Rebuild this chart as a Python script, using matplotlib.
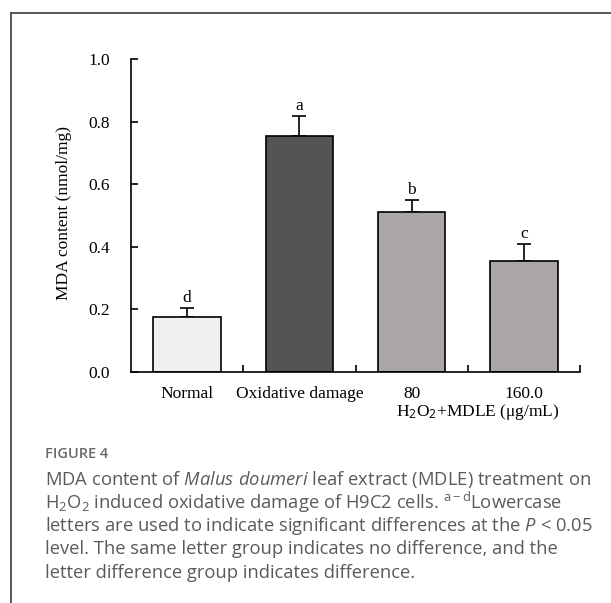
import matplotlib
matplotlib.use('Agg')
import matplotlib.pyplot as plt
from matplotlib.lines import Line2D

# Data
groups = ['Normal', 'Oxidative damage', '80', '160.0']
mda_mean = [0.177, 0.755, 0.513, 0.355]
mda_err = [0.027, 0.063, 0.036, 0.053]
sig_letters = ['d', 'a', 'b', 'c']
bar_colors = ['#f0f0f0', '#545454', '#aba7a7', '#aba7a7']

serif = 'Liberation Serif'
plt.rcParams['mathtext.fontset'] = 'custom'
plt.rcParams['mathtext.rm'] = 'Open Sans'
plt.rcParams['mathtext.it'] = 'Open Sans:italic'

fig = plt.figure(figsize=(6.11, 6.03), dpi=100)
ax = fig.add_axes([0.2144, 0.383, 0.735, 0.519])

# Bars with upper error bars
xpos = [i + 0.5 for i in range(len(groups))]
ax.errorbar(xpos, mda_mean, yerr=[[0] * len(groups), mda_err], fmt='none',
            ecolor='black', elinewidth=1.2, capsize=5, capthick=1.2, zorder=1)
ax.bar(xpos, mda_mean, width=0.6, color=bar_colors, edgecolor='black',
       linewidth=1.2, zorder=2)

# Significance letters above error bars
for xi, m, e, lab in zip(xpos, mda_mean, mda_err, sig_letters):
    ax.annotate(lab, (xi, m + e), xytext=(0, 4.5), textcoords='offset points',
                ha='center', va='baseline', fontsize=12.5, family=serif)

# Axes settings
ax.set_xlim(0, len(groups))
ax.set_ylim(0, 1.0)
ax.spines['top'].set_visible(False)
ax.spines['right'].set_visible(False)
for s in ['left', 'bottom']:
    ax.spines[s].set_linewidth(1.2)

ax.set_yticks([0.0, 0.2, 0.4, 0.6, 0.8, 1.0])
ax.set_yticklabels([f'{v:.1f}' for v in [0.0, 0.2, 0.4, 0.6, 0.8, 1.0]],
                   family=serif, fontsize=12.5)
ax.tick_params(axis='y', direction='in', length=5, width=1.2, pad=15)

ax.set_xticks(range(1, len(groups) + 1))
ax.set_xticklabels([])
ax.tick_params(axis='x', which='major', direction='in', length=5, width=1.2)
ax.set_xticks(xpos, minor=True)
ax.set_xticklabels(groups, minor=True, family=serif, fontsize=12.5)
ax.tick_params(axis='x', which='minor', length=0, pad=10)

fig.text(64.5 / 611, 1 - 213 / 603, 'MDA content (nmol/mg)', rotation=90,
         ha='center', va='center', family=serif, fontsize=12.5)
fig.text(478 / 611, 1 - 412 / 603, r'H$_2$O$_2$+MDLE (μg/mL)', ha='center',
         va='center', family=serif, fontsize=12.5)

# Frame around the figure panel
fig.add_artist(Line2D([11 / 611, 11 / 611], [0, 1 - 13 / 603],
                      transform=fig.transFigure, color='#4a4a4a', lw=1.3))
fig.add_artist(Line2D([11 / 611, 1], [1 - 13 / 603, 1 - 13 / 603],
                      transform=fig.transFigure, color='#4a4a4a', lw=1.3))

# Caption
cap_col = '#5a5a5a'
fig.text(45 / 611, 1 - 454 / 603, 'FIGURE 4', family='Open Sans',
         fontweight='semibold', fontsize=10.5, color='#6a6a6a', va='center')
caption = [
    r'MDA content of $\mathit{Malus\ doumeri}$ leaf extract (MDLE) treatment on',
    r'H$_2$O$_2$ induced oxidative damage of H9C2 cells. $^{\mathrm{a-d}}$Lowercase',
    r'letters are used to indicate significant differences at the $\mathit{P}$ < 0.05',
    'level. The same letter group indicates no difference, and the',
    'letter difference group indicates difference.',
]
for i, line in enumerate(caption):
    fig.text(45 / 611, 1 - (479 + 23.5 * i) / 603, line, family='Open Sans',
             fontsize=13.2, color=cap_col, va='center')

fig.savefig('out.png', dpi=100)
